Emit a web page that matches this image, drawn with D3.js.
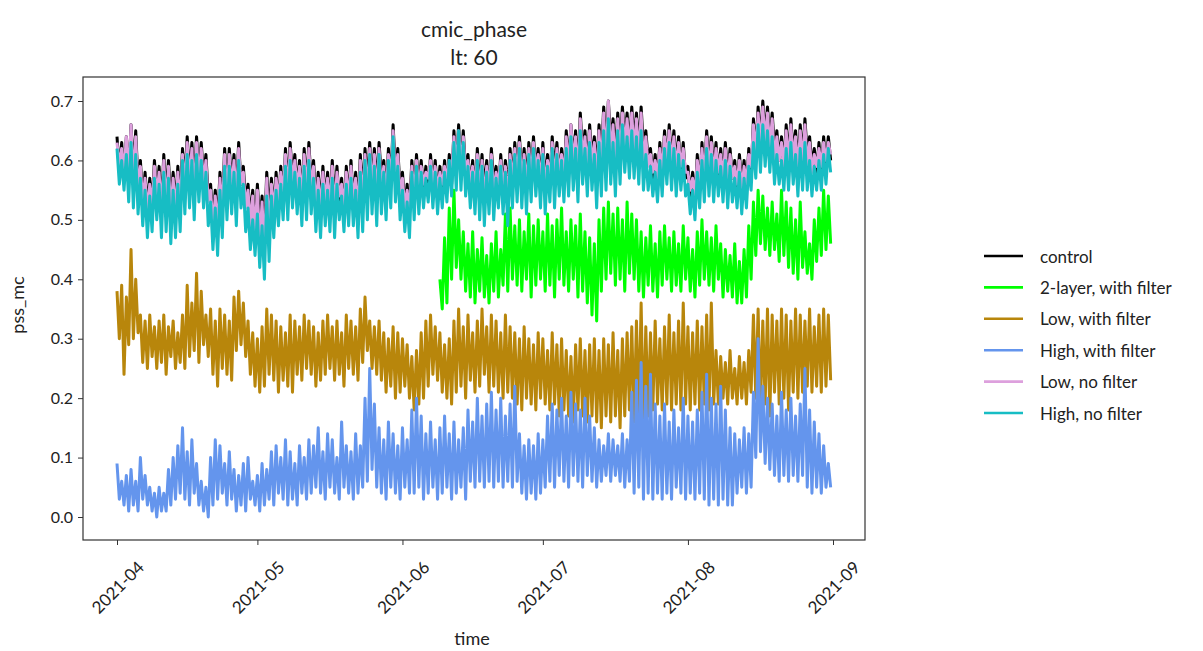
<!DOCTYPE html>
<html><head><meta charset="utf-8">
<script src="https://cdn.jsdelivr.net/npm/d3@7"></script>
<style>body{margin:0;background:#fff}svg{display:block}text{font-family:Lato,"Open Sans",sans-serif;fill:#222}</style>
</head><body><svg id="c" width="1203" height="651"></svg>
<script>
// Daily maximum / minimum values, one entry per day from 2021-04-01
const controlHi=[.64,.63,.64,.66,.65,.60,.58,.57,.60,.59, .61,.60,.58,.59,.62,.64,.63,.64,.63,.61, .56,.55,.58,.62,.62,.61,.63,.59,.56,.55, .56,.54,.58,.57,.58,.59,.62,.63,.61,.60, .62,.63,.60,.58,.59,.58,.60,.59,.57,.59, .60,.58,.61,.62,.63,.62,.63,.60,.62,.66, .62,.58,.56,.60,.61,.60,.59,.61,.60,.59, .60,.61,.65,.66,.65,.61,.60,.62,.61,.60, .62,.59,.61,.60,.62,.63,.64,.62,.63,.64, .62,.63,.61,.64,.63,.62,.65,.66,.65,.68, .65,.66,.64,.66,.69,.70,.67,.68,.69,.68, .69,.68,.69,.65,.62,.61,.63,.65,.66,.65, .64,.63,.59,.58,.61,.63,.65,.64,.63,.62, .63,.62,.60,.61,.60,.62,.67,.69,.70,.69, .68,.65,.64,.66,.67,.65,.66,.67,.64,.62, .63,.64,.64];
const controlLo=[.58,.57,.57,.58,.56,.53,.52,.52,.54,.52, .54,.53,.52,.53,.56,.57,.56,.57,.57,.54, .50,.49,.52,.55,.56,.54,.56,.53,.50,.48, .49,.47,.51,.51,.52,.53,.55,.57,.55,.53, .55,.56,.53,.52,.53,.52,.53,.53,.51,.53, .53,.52,.54,.56,.56,.55,.57,.54,.56,.58, .55,.52,.51,.54,.55,.55,.54,.55,.54,.54, .55,.56,.58,.59,.58,.55,.54,.55,.55,.54, .56,.54,.55,.54,.56,.57,.57,.56,.57,.58, .56,.56,.56,.58,.57,.57,.59,.60,.58,.61, .59,.60,.58,.60,.62,.63,.61,.62,.63,.62, .63,.62,.62,.60,.57,.56,.57,.59,.60,.59, .58,.57,.54,.53,.55,.57,.59,.58,.57,.57, .57,.57,.55,.56,.55,.57,.61,.63,.64,.63, .62,.60,.59,.60,.61,.59,.60,.61,.59,.58, .58,.59,.60];
const lowNoHi=[.63,.62,.64,.66,.64,.59,.57,.56,.59,.58, .60,.59,.57,.58,.61,.63,.62,.63,.62,.60, .55,.54,.57,.61,.61,.60,.62,.58,.55,.54, .55,.53,.57,.56,.57,.58,.61,.62,.60,.59, .61,.62,.59,.57,.58,.57,.59,.58,.56,.58, .59,.57,.60,.61,.62,.61,.62,.59,.61,.65, .61,.57,.55,.59,.60,.59,.58,.60,.59,.58, .59,.60,.64,.65,.64,.60,.59,.61,.60,.59, .61,.58,.60,.59,.61,.62,.63,.61,.62,.63, .61,.62,.60,.63,.62,.61,.64,.66,.64,.67, .64,.65,.63,.65,.68,.70,.66,.67,.68,.67, .68,.67,.68,.64,.61,.60,.62,.64,.65,.64, .63,.62,.58,.57,.60,.62,.64,.63,.62,.61, .62,.61,.59,.60,.59,.61,.66,.68,.69,.68, .67,.64,.63,.65,.66,.64,.65,.66,.63,.61, .62,.63,.63];
const lowNoLo=[.59,.58,.57,.56,.55,.53,.51,.52,.54,.51, .52,.51,.51,.52,.55,.56,.54,.57,.56,.53, .49,.48,.51,.54,.55,.53,.56,.52,.49,.48, .46,.44,.47,.51,.53,.54,.54,.56,.55,.53, .54,.55,.52,.51,.53,.52,.51,.54,.52,.53, .53,.51,.52,.54,.55,.53,.55,.54,.56,.57, .54,.52,.51,.54,.55,.56,.57,.56,.55,.56, .57,.58,.59,.59,.58,.56,.55,.54,.53,.55, .54,.56,.55,.53,.56,.57,.56,.55,.57,.58, .56,.55,.57,.56,.58,.57,.58,.59,.57,.60, .58,.59,.56,.58,.59,.60,.58,.60,.62,.61, .61,.60,.59,.59,.58,.57,.58,.60,.59,.58, .59,.58,.55,.54,.56,.57,.58,.57,.58,.57, .56,.57,.56,.55,.56,.59,.61,.62,.63,.62, .60,.60,.59,.59,.60,.58,.59,.59,.58,.59, .59,.60,.61];
const highNoHi=[.62,.60,.61,.63,.61,.57,.55,.54,.57,.56, .58,.57,.55,.56,.60,.61,.60,.61,.60,.58, .53,.52,.55,.59,.59,.58,.60,.56,.52,.50, .51,.49,.54,.54,.55,.56,.59,.60,.58,.57, .59,.60,.57,.55,.56,.55,.57,.56,.54,.56, .57,.55,.58,.60,.61,.59,.61,.58,.60,.64, .59,.55,.53,.58,.59,.58,.57,.59,.58,.57, .58,.60,.63,.65,.63,.59,.58,.60,.59,.58, .60,.57,.59,.58,.60,.61,.62,.60,.61,.62, .60,.61,.59,.62,.61,.60,.62,.64,.62,.65, .62,.63,.61,.63,.65,.67,.63,.65,.66,.64, .65,.64,.65,.61,.59,.58,.60,.62,.63,.62, .61,.60,.56,.55,.58,.60,.62,.61,.60,.59, .60,.59,.57,.58,.57,.59,.63,.66,.66,.65, .64,.61,.60,.62,.63,.61,.62,.63,.60,.59, .60,.61,.62];
const highNoLo=[.56,.55,.53,.52,.51,.49,.47,.48,.50,.47, .48,.46,.47,.48,.51,.52,.50,.53,.52,.49, .45,.44,.47,.50,.51,.49,.52,.48,.45,.44, .42,.40,.43,.47,.49,.50,.50,.52,.51,.49, .50,.51,.48,.47,.49,.48,.47,.50,.48,.49, .49,.47,.48,.50,.51,.49,.51,.50,.52,.53, .50,.48,.47,.50,.51,.52,.53,.52,.51,.52, .53,.54,.55,.55,.54,.52,.51,.50,.49,.51, .50,.52,.51,.49,.52,.53,.52,.51,.53,.54, .52,.51,.53,.52,.54,.53,.54,.55,.53,.56, .54,.55,.52,.54,.55,.56,.54,.56,.58,.57, .57,.56,.55,.55,.54,.53,.54,.56,.55,.54, .55,.54,.51,.50,.52,.53,.54,.53,.54,.53, .52,.53,.52,.51,.52,.55,.57,.58,.59,.58, .56,.56,.55,.55,.56,.54,.55,.55,.54,.55, .55,.56,.58];
// 2-layer series starts on day 69 (2021-06-09)
const twoLayerStartDay=69;
const twoLayerHi=[.40,.47,.52,.55,.50,.48,.46,.48,.45,.47, .44,.46,.48,.45,.51,.52,.49,.50,.48,.51, .49,.50,.48,.51,.49,.50,.52,.48,.50,.49, .51,.48,.47,.46,.50,.52,.53,.51,.52,.50, .53,.51,.50,.48,.47,.49,.46,.48,.49,.47, .48,.46,.49,.47,.45,.48,.50,.48,.47,.49, .46,.45,.44,.46,.43,.45,.49,.53,.55,.54, .52,.53,.51,.55,.53,.52,.50,.53,.48,.46, .50,.52,.55,.54];
const twoLayerLo=[.35,.36,.40,.42,.40,.38,.37,.36,.38,.37, .36,.38,.37,.39,.38,.40,.39,.38,.40,.37, .39,.40,.38,.39,.37,.40,.39,.38,.40,.37, .38,.36,.34,.33,.38,.40,.41,.39,.40,.38, .41,.40,.38,.37,.39,.38,.37,.39,.40,.38, .39,.38,.40,.38,.37,.39,.40,.39,.38,.40, .37,.38,.37,.36,.36,.37,.40,.44,.46,.45, .44,.45,.43,.44,.42,.41,.40,.42,.41,.40, .43,.44,.45,.46];
const lowFiltHi=[.38,.39,.37,.45,.40,.34,.33,.34,.32,.33, .34,.32,.33,.31,.34,.39,.36,.41,.38,.34, .35,.33,.35,.34,.33,.37,.38,.36,.33,.31, .30,.32,.35,.34,.33,.32,.31,.34,.33,.32, .34,.33,.32,.31,.33,.34,.32,.33,.31,.34, .33,.32,.35,.37,.33,.32,.33,.31,.30,.32, .31,.30,.29,.27,.28,.31,.33,.34,.32,.31, .29,.30,.33,.35,.32,.34,.31,.33,.35,.32, .34,.33,.31,.34,.32,.31,.30,.32,.30,.29, .31,.30,.28,.31,.29,.30,.28,.27,.29,.30, .28,.29,.30,.28,.30,.29,.31,.28,.30,.31, .32,.33,.36,.32,.31,.33,.30,.32,.34,.31, .33,.36,.32,.31,.33,.32,.34,.36,.28,.27, .26,.28,.25,.27,.26,.28,.34,.35,.33,.35, .34,.33,.35,.34,.33,.35,.34,.33,.35,.32, .34,.35,.34];
const lowFiltLo=[.30,.24,.29,.30,.31,.26,.25,.27,.25,.26, .24,.27,.25,.26,.25,.27,.28,.26,.29,.27, .24,.22,.25,.24,.23,.28,.29,.27,.24,.22, .21,.22,.24,.23,.21,.23,.22,.21,.24,.23, .25,.24,.22,.23,.24,.25,.23,.24,.22,.25, .24,.23,.26,.28,.25,.24,.23,.21,.22,.20, .21,.22,.20,.18,.19,.20,.22,.24,.23,.21, .20,.19,.21,.22,.20,.23,.21,.22,.24,.21, .22,.21,.20,.21,.20,.19,.18,.20,.19,.18, .20,.19,.18,.19,.17,.18,.17,.16,.18,.17, .16,.17,.16,.15,.17,.16,.17,.15,.17,.18, .16,.17,.15,.17,.18,.19,.18,.19,.18,.19, .18,.19,.18,.19,.18,.19,.18,.19,.19,.20, .19,.20,.19,.20,.19,.21,.20,.18,.19,.17, .21,.19,.20,.18,.21,.20,.21,.22,.21,.22, .21,.22,.23];
const highFiltHi=[.09,.06,.07,.08,.06,.10,.07,.05,.04,.05, .04,.08,.10,.12,.15,.11,.13,.09,.06,.05, .10,.13,.12,.09,.11,.08,.07,.09,.10,.06, .07,.09,.08,.11,.12,.10,.13,.11,.09,.12, .10,.13,.12,.15,.11,.14,.13,.10,.16,.12, .11,.14,.12,.20,.25,.19,.15,.13,.16,.14, .12,.15,.13,.18,.20,.17,.14,.16,.13,.15, .17,.14,.16,.13,.15,.18,.16,.20,.17,.19, .21,.18,.20,.17,.19,.22,.14,.12,.13,.12, .14,.13,.17,.19,.18,.20,.17,.21,.19,.18, .20,.17,.15,.13,.12,.14,.13,.12,.14,.13, .21,.23,.26,.22,.24,.19,.17,.19,.16,.18, .15,.20,.17,.16,.18,.21,.24,.20,.19,.22, .18,.15,.14,.13,.15,.14,.21,.30,.22,.20, .19,.17,.21,.18,.20,.17,.19,.25,.18,.16, .14,.12,.09];
const highFiltLo=[.03,.02,.01,.02,.01,.03,.02,.01,.00,.01, .01,.02,.03,.04,.03,.02,.04,.02,.01,.00, .02,.03,.04,.02,.03,.01,.02,.01,.03,.02, .01,.02,.03,.02,.04,.03,.02,.03,.02,.04, .03,.04,.05,.04,.03,.05,.04,.03,.05,.04, .03,.04,.05,.06,.08,.05,.04,.03,.05,.04, .03,.05,.04,.04,.05,.03,.04,.05,.03,.04, .05,.03,.04,.05,.03,.06,.05,.06,.05,.06, .05,.06,.05,.06,.05,.06,.04,.03,.04,.03, .04,.05,.06,.05,.07,.06,.05,.07,.06,.05, .07,.06,.05,.06,.07,.06,.07,.06,.05,.06, .04,.05,.03,.04,.03,.04,.03,.04,.03,.05, .04,.03,.04,.03,.04,.03,.02,.03,.02,.03, .02,.02,.04,.05,.04,.05,.10,.11,.09,.08, .07,.06,.07,.06,.07,.06,.07,.05,.04,.05, .04,.05,.05];

const seriesNames=["control","2-layer, with filter","Low, with filter","High, with filter","Low, no filter","High, no filter"];
const seriesColors=["#000000","#00ff00","#b8860b","#6495ed","#dda0dd","#17bdc4"];
const yTicks=[0.0,0.1,0.2,0.3,0.4,0.5,0.6,0.7];
const xTickLabels=["2021-04","2021-05","2021-06","2021-07","2021-08","2021-09"];

const t0=Date.UTC(2021,3,1), DAY=864e5;
function build(hi,lo,startDay){
  const pts=[];
  hi.forEach((h,i)=>{
    pts.push({t:new Date(t0+(startDay+i)*DAY),v:h});
    pts.push({t:new Date(t0+(startDay+i+0.5)*DAY),v:lo[i]});
  });
  return pts;
}
const series=[
  build(controlHi,controlLo,0),
  build(twoLayerHi,twoLayerLo,twoLayerStartDay),
  build(lowFiltHi,lowFiltLo,0),
  build(highFiltHi,highFiltLo,0),
  build(lowNoHi,lowNoLo,0),
  build(highNoHi,highNoLo,0)
];

const svg=d3.select("#c");
const frame={l:83,r:865,t:77,b:540};
const x=d3.scaleUtc().domain([new Date(Date.UTC(2021,3,1)),new Date(Date.UTC(2021,8,1))]).range([117,833]);
const y=d3.scaleLinear().domain([0,0.7]).range([517,101]);

const line=d3.line().x(d=>x(d.t)).y(d=>y(d.v));
const g=svg.append("g");
series.forEach((s,i)=>{
  g.append("path").datum(s).attr("d",line).attr("fill","none")
   .attr("stroke",seriesColors[i]).attr("stroke-width",3).attr("stroke-linejoin","round");
});

svg.append("rect").attr("x",frame.l).attr("y",frame.t).attr("width",frame.r-frame.l).attr("height",frame.b-frame.t)
  .attr("fill","none").attr("stroke","#333").attr("stroke-width",1.2);

// y axis
const yAx=svg.append("g").attr("transform",`translate(${frame.l},0)`)
  .call(d3.axisLeft(y).tickValues(yTicks).tickFormat(d3.format(".1f")).tickSize(5).tickPadding(5));
yAx.select(".domain").remove();
yAx.selectAll("line").attr("stroke","#333");
yAx.selectAll("text").style("font-size","16px").style("font-family","Lato,'Open Sans',sans-serif").attr("fill","#222");

// x axis
const xTickDates=xTickLabels.map(s=>new Date(s+"-01T00:00:00Z"));
const xAx=svg.append("g").attr("transform",`translate(0,${frame.b})`)
  .call(d3.axisBottom(x).tickValues(xTickDates).tickFormat((d,i)=>xTickLabels[i]).tickSize(5));
xAx.select(".domain").remove();
xAx.selectAll("line").attr("stroke","#333");
xAx.selectAll("text").style("font-size","17px").style("font-family","Lato,'Open Sans',sans-serif").attr("fill","#222")
  .attr("text-anchor","middle").attr("dy",null).attr("y",null)
  .attr("dominant-baseline","central")
  .attr("transform","translate(0,47) rotate(-45)");

// titles
svg.append("text").attr("x",474).attr("y",37).attr("text-anchor","middle").style("font-size","21px").text("cmic_phase");
svg.append("text").attr("x",474).attr("y",65).attr("text-anchor","middle").style("font-size","21px").text("lt: 60");
svg.append("text").attr("x",472).attr("y",645).attr("text-anchor","middle").style("font-size","18px").text("time");
svg.append("text").attr("transform","translate(24,305) rotate(-90)").attr("text-anchor","middle").style("font-size","18px").text("pss_mc");

// legend
const lg=svg.append("g");
seriesNames.forEach((n,i)=>{
  const yy=256+i*31.4;
  lg.append("line").attr("x1",984).attr("x2",1023).attr("y1",yy).attr("y2",yy).attr("stroke",seriesColors[i]).attr("stroke-width",2.6);
  lg.append("text").attr("x",1040).attr("y",yy).attr("dominant-baseline","central").style("font-size","17px").text(n);
});
</script></body></html>
